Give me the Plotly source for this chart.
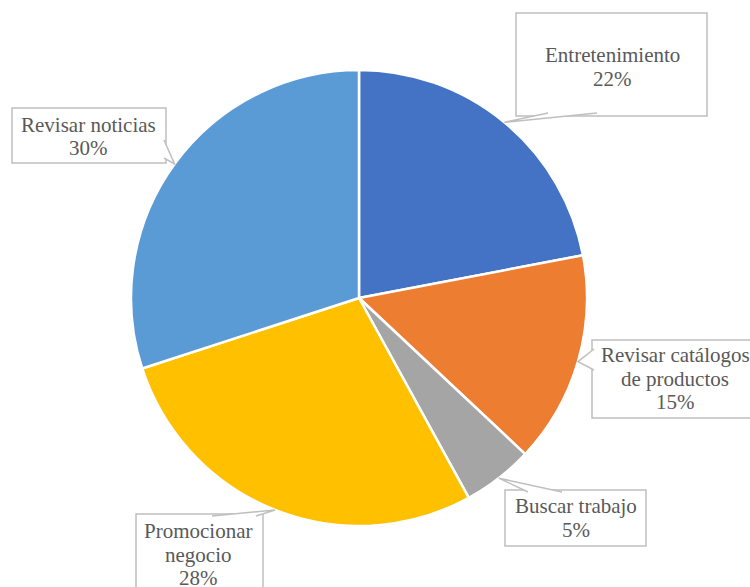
import math
import plotly.graph_objects as go

# Data
categories = ["Entretenimiento", "Revisar catálogos de productos", "Buscar trabajo",
              "Promocionar negocio", "Revisar noticias"]
percent = [22, 15, 5, 28, 30]
label_lines = [["Entretenimiento"], ["Revisar catálogos", "de productos"],
               ["Buscar trabajo"], ["Promocionar", "negocio"], ["Revisar noticias"]]
colors = ["#4472C4", "#ED7D31", "#A5A5A5", "#FFC000", "#5B9BD5"]

# Page geometry (pixels)
W, H = 750, 587
CX, CY, R = 359, 298, 228

# Callout boxes: (left, top, right, bottom) in pixels
boxes = [(516, 13, 707, 116), (592, 340, 760, 418), (505, 490, 646, 546),
         (136, 514, 263, 600), (12, 108, 166, 163)]
# Text anchor: centre x and centre y of first line, in pixels
text_pos = [(612, 55), (675, 355), (576, 506), (198, 531), (88, 125)]
LINE_STEP = 23.5
# Where each callout tail leaves its box (two points on the box edge)
tail_base = [((548, 113), (597, 113)), ((594, 349), (594, 370)),
             ((528, 492), (562, 492)), ((212, 516), (256, 516)),
             ((164, 140), (164, 158))]

FONT = dict(family="Liberation Serif", size=21, color="#595959")
BORDER = "#BFBFBF"


def px(x):
    return x / W


def py(y):
    return 1 - y / H


fig = go.Figure(go.Pie(
    labels=categories,
    values=percent,
    sort=False,
    direction="clockwise",
    rotation=0,
    textinfo="none",
    hoverinfo="label+percent",
    marker=dict(colors=colors, line=dict(color="white", width=2.5)),
    domain=dict(x=[px(CX - R), px(CX + R)], y=[py(CY + R), py(CY - R)]),
    showlegend=False,
))

total = sum(percent)
cum = 0
for i, v in enumerate(percent):
    # tail apex sits on the rim of the slice at its mid angle
    mid = (cum + v / 2) / total * 2 * math.pi
    cum += v
    tx = CX + R * math.sin(mid)
    ty = CY - R * math.cos(mid)

    l, t, r, b = boxes[i]
    fig.add_shape(type="rect", xref="paper", yref="paper",
                  x0=px(l), x1=px(r), y0=py(b), y1=py(t),
                  fillcolor="white", line=dict(color=BORDER, width=1.5),
                  layer="above")
    (b1x, b1y), (b2x, b2y) = tail_base[i]
    path = (f"M {px(b1x)},{py(b1y)} L {px(tx)},{py(ty)} "
            f"L {px(b2x)},{py(b2y)}")
    fig.add_shape(type="path", xref="paper", yref="paper", path=path,
                  fillcolor="white", line=dict(color=BORDER, width=1.5),
                  layer="above")

    lines = label_lines[i] + [f"{v}%"]
    cx0, cy0 = text_pos[i]
    for k, line in enumerate(lines):
        fig.add_annotation(x=px(cx0), y=py(cy0 + k * LINE_STEP),
                           xref="paper", yref="paper",
                           xanchor="center", yanchor="middle",
                           text=line, showarrow=False, font=FONT)

fig.update_layout(
    width=W, height=H,
    margin=dict(l=0, r=0, t=0, b=0),
    paper_bgcolor="white",
    plot_bgcolor="white",
)

fig.write_html("out.html")
